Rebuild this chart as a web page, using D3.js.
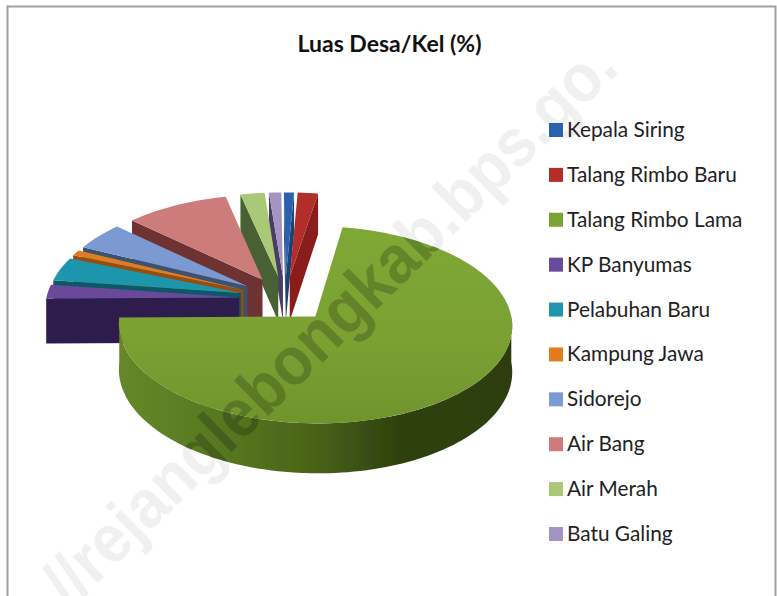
<!DOCTYPE html>
<html><head><meta charset="utf-8">
<script src="https://cdn.jsdelivr.net/npm/d3@7"></script>
<style>html,body{margin:0;padding:0;background:#fff}svg{display:block}</style>
</head><body><div id="c"></div>
<script>
const chartTitle = "Luas Desa/Kel (%)";
const categories = ["Kepala Siring","Talang Rimbo Baru","Talang Rimbo Lama","KP Banyumas","Pelabuhan Baru","Kampung Jawa","Sidorejo","Air Bang","Air Merah","Batu Galing"];
const shares = [0.92,1.86,72.22,2.36,4.03,0.97,4.72,9.58,2.22,1.12];
const topColors = ["#2a62ad","#b32d2a","#7ba333","#6a4a9a","#1f96ac","#e07b20","#7c9ad2","#cc7b7a","#a9c977","#a394c4"];
const sideColors = ["#1c4274","#8a1f1d","#3f5a16","#2f1c4d","#0f5868","#934f10","#3c5170","#6e3230","#4a6135","#4a3e66"];
const watermark = "//rejanglebongkab.bps.go.";

const W = 777, H = 596;
const svg = d3.select("#c").append("svg").attr("width",W).attr("height",H);
const defs = svg.append("defs");

// frame
svg.append("path").attr("d",`M7.5,${H} V6.5 H775.5 V${H}`).attr("fill","none").attr("stroke","#a0a0a0").attr("stroke-width",2);

// watermark under the pie
const wmX = 70, wmY = 610, wmA = -44.4;
function addWatermark(sel, fill){
  return sel.append("text").text(watermark)
    .attr("transform",`translate(${wmX},${wmY}) rotate(${wmA})`)
    .attr("font-family","'Liberation Sans',Arial,sans-serif").attr("font-weight",700)
    .attr("font-size",68).attr("textLength",771).attr("lengthAdjust","spacingAndGlyphs")
    .attr("fill",fill);
}
addWatermark(svg,"#f0f0f0");

// projection of the pie plane
const cx = 285, cy = 299, k = 0.0833, explode = 0.238, depth = 45;
const sx = d3.scaleLinear().domain([-1,1]).range([-193,193]);
const sy = d3.scaleLinear().domain([-1,1]).range([-95,95]);
const proj = (u,v,down=0)=>{
  const s = 1/(1-k*v);
  return [cx+sx(u)*s, cy+sy(v)*s+down*s];
};
const line = d3.line();

const pie = d3.pie().sort(null).value(d=>d).startAngle(-0.6*Math.PI/180).endAngle(359.4*Math.PI/180);
const arcs = pie(shares).map((a,i)=>{
  const mid=(a.startAngle+a.endAngle)/2;
  return {...a,i,mid,ou:explode*Math.sin(mid),ov:-explode*Math.cos(mid)};
});
const ptAt=(a,t,r=1,down=0)=>proj(a.ou+r*Math.sin(t),a.ov-r*Math.cos(t),down);
const arcSamples=(a0,a1)=>{const n=Math.max(2,Math.ceil((a1-a0)/0.03));return d3.range(n+1).map(j=>a0+(a1-a0)*j/n);};

// green gradient definitions
const g1=defs.append("linearGradient").attr("id","rimGreen").attr("gradientUnits","userSpaceOnUse").attr("x1",117).attr("x2",511).attr("y1",0).attr("y2",0);
[[0,"#66882a"],[.3,"#557520"],[.5,"#496317"],[.62,"#3a5013"],[.72,"#2e400f"],[1,"#2d3e10"]].forEach(s=>g1.append("stop").attr("offset",s[0]).attr("stop-color",s[1]));
const g2=defs.append("linearGradient").attr("id","topGreen").attr("gradientUnits","userSpaceOnUse").attr("x1",0).attr("x2",0).attr("y1",228).attr("y2",424);
[[0,"#7fa835"],[.6,"#7aa033"],[1,"#6f942c"]].forEach(s=>g2.append("stop").attr("offset",s[0]).attr("stop-color",s[1]));
const blur=defs.append("filter").attr("id","soft").attr("x","-5%").attr("y","-5%").attr("width","110%").attr("height","110%");
blur.append("feGaussianBlur").attr("stdDeviation",0.7);

const pieG = svg.append("g").attr("filter","url(#soft)");
const clip = defs.append("clipPath").attr("id","pieClip");
const order = arcs.slice().sort((a,b)=>a.ov-b.ov);

order.forEach(a=>{
  const top = topColors[a.i], side = sideColors[a.i];
  const green = a.i===2;
  const apex = proj(a.ou,a.ov), apexD = proj(a.ou,a.ov,depth);
  const g = pieG.append("g");
  // radial walls that face the viewer
  const wall=(t)=>g.append("path").attr("d",line([apex,ptAt(a,t),ptAt(a,t,1,depth),apexD])+"Z").attr("fill",side);
  if(Math.sin(a.startAngle)<0) wall(a.startAngle);
  if(Math.sin(a.endAngle)>0) wall(a.endAngle);
  // front-facing rim
  const lo=Math.max(a.startAngle,Math.PI/2), hi=Math.min(a.endAngle,3*Math.PI/2);
  if(hi>lo){
    const ts=arcSamples(lo,hi);
    const pts=ts.map(t=>ptAt(a,t)).concat(ts.slice().reverse().map(t=>ptAt(a,t,1,depth)));
    const d=line(pts)+"Z";
    g.append("path").attr("d",d).attr("fill",green?"url(#rimGreen)":side);
    clip.append("path").attr("d",d);
  }
  // top surface
  const tp=[apex].concat(arcSamples(a.startAngle,a.endAngle).map(t=>ptAt(a,t)));
  const d=line(tp)+"Z";
  g.append("path").attr("d",d).attr("fill",green?"url(#topGreen)":top);
  clip.append("path").attr("d",d);
});

// watermark darkening the pie
addWatermark(svg.append("g").attr("clip-path","url(#pieClip)"),"rgba(0,0,0,0.2)");

// title
svg.append("text").text(chartTitle).attr("x",389.5).attr("y",52).attr("text-anchor","middle")
  .attr("font-family","Lato,sans-serif").attr("font-weight",700).attr("font-size",23).attr("fill","#111");

// legend
const legY = d3.scalePoint().domain(categories).range([130,534]);
const leg = svg.selectAll("g.leg").data(categories).join("g").attr("class","leg");
leg.append("rect").attr("x",549).attr("y",d=>legY(d)-7).attr("width",14).attr("height",14).attr("fill",(d,i)=>topColors[i]);
leg.append("text").text(d=>d).attr("x",567).attr("y",d=>legY(d)+7)
  .attr("font-family","Lato,sans-serif").attr("font-size",20.8).attr("fill","#222");
</script></body></html>
